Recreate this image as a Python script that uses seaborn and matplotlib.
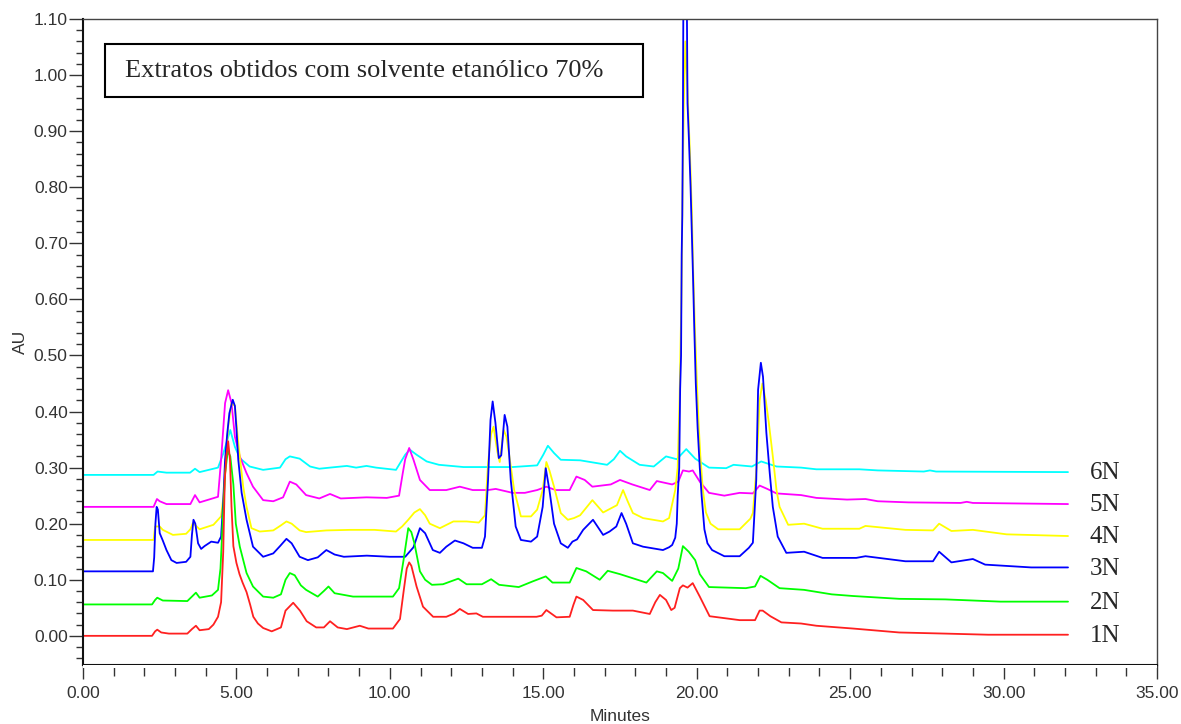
import matplotlib
matplotlib.use("Agg")
import numpy as np
import pandas as pd
import seaborn as sns
import matplotlib.pyplot as plt
from matplotlib.patches import Rectangle
from matplotlib.ticker import MultipleLocator, FormatStrFormatter

# ---------------- data (time in minutes, absorbance AU) ----------------
trace_1N = [(0, 0), (2.25, 0), (2.35, 0.008), (2.42, 0.011), (2.55, 0.006), (2.8, 0.004), (3.4, 0.004),
            (3.55, 0.012), (3.68, 0.018), (3.8, 0.01), (4.1, 0.012), (4.25, 0.02), (4.4, 0.034), (4.5, 0.06),
            (4.57, 0.15), (4.62, 0.278), (4.67, 0.32), (4.73, 0.347), (4.79, 0.314), (4.84, 0.23),
            (4.9, 0.16), (5.0, 0.13), (5.1, 0.11), (5.2, 0.095), (5.33, 0.078), (5.45, 0.055), (5.55, 0.034),
            (5.7, 0.022), (5.87, 0.014), (6.15, 0.008),
            (6.45, 0.015), (6.6, 0.045), (6.85, 0.059), (7.07, 0.045), (7.29, 0.026), (7.6, 0.015), (7.85, 0.015),
            (8.05, 0.026), (8.3, 0.015), (8.6, 0.012), (9.02, 0.018), (9.3, 0.013), (9.67, 0.013), (10.1, 0.013),
            (10.33, 0.03), (10.45, 0.08), (10.55, 0.12), (10.63, 0.131), (10.7, 0.125), (10.87, 0.088),
            (11.08, 0.052), (11.41, 0.034), (11.84, 0.034), (12.1, 0.04), (12.28, 0.048), (12.55, 0.039),
            (12.82, 0.04), (13.03, 0.034), (13.8, 0.034), (14.78, 0.034), (14.95, 0.036), (15.1, 0.046),
            (15.43, 0.033), (15.86, 0.034), (15.98, 0.055), (16.08, 0.07), (16.3, 0.064), (16.62, 0.046),
            (17.27, 0.045), (17.92, 0.045), (18.47, 0.039), (18.65, 0.06), (18.8, 0.073), (19.0, 0.064),
            (19.17, 0.046), (19.28, 0.05), (19.45, 0.085), (19.55, 0.09), (19.7, 0.086), (19.87, 0.094),
            (20.1, 0.07), (20.42, 0.035), (21.4, 0.028), (21.9, 0.028), (22.05, 0.045), (22.15, 0.045),
            (22.4, 0.035), (22.76, 0.024), (23.4, 0.022), (23.9, 0.018), (25.1, 0.013), (26.6, 0.006),
            (28.1, 0.004), (29.5, 0.002), (32.1, 0.002)]

trace_2N = [(0, 0.056), (2.25, 0.056), (2.35, 0.064), (2.42, 0.068), (2.6, 0.063), (3.4, 0.062), (3.55, 0.07),
            (3.68, 0.077), (3.8, 0.068), (4.2, 0.072), (4.4, 0.082), (4.48, 0.12), (4.55, 0.2), (4.63, 0.29),
            (4.72, 0.33), (4.8, 0.32), (4.9, 0.27), (4.98, 0.2), (5.11, 0.159), (5.33, 0.112), (5.54, 0.088),
            (5.87, 0.07), (6.2, 0.068), (6.45, 0.074), (6.6, 0.1), (6.74, 0.112), (6.9, 0.108), (7.1, 0.09),
            (7.27, 0.082), (7.65, 0.07), (7.85, 0.08), (8.0, 0.088), (8.2, 0.076), (8.8, 0.07), (10.1, 0.07),
            (10.3, 0.085), (10.46, 0.14), (10.6, 0.192), (10.7, 0.185), (10.8, 0.165), (10.98, 0.115),
            (11.15, 0.1), (11.37, 0.091), (11.73, 0.092), (12.23, 0.102), (12.5, 0.092), (13.0, 0.092),
            (13.3, 0.101), (13.56, 0.091), (14.2, 0.087), (14.65, 0.097), (15.08, 0.106), (15.3, 0.095),
            (15.86, 0.095), (16.08, 0.121), (16.4, 0.115), (16.84, 0.1), (17.1, 0.116), (17.5, 0.11),
            (17.9, 0.103), (18.36, 0.095), (18.7, 0.115), (18.9, 0.112), (19.2, 0.098), (19.4, 0.12),
            (19.55, 0.16), (19.74, 0.15), (19.95, 0.135), (20.1, 0.11), (20.4, 0.087), (21.6, 0.085),
            (21.9, 0.088), (22.08, 0.107), (22.3, 0.1), (22.7, 0.085), (23.5, 0.082), (24.4, 0.074),
            (25.1, 0.071), (26.6, 0.066), (28.1, 0.065), (29.9, 0.061), (32.1, 0.061)]

trace_3N = [(0, 0.115), (2.28, 0.115), (2.32, 0.14), (2.36, 0.2), (2.4, 0.23), (2.44, 0.225), (2.5, 0.183),
            (2.6, 0.17), (2.72, 0.153), (2.88, 0.135), (3.05, 0.13), (3.36, 0.132), (3.5, 0.141), (3.55, 0.18),
            (3.6, 0.207), (3.66, 0.2), (3.75, 0.165), (3.85, 0.155), (3.96, 0.16), (4.18, 0.168), (4.4, 0.166),
            (4.5, 0.177), (4.57, 0.24), (4.63, 0.314), (4.7, 0.36), (4.77, 0.397), (4.88, 0.421), (4.95, 0.41),
            (5.0, 0.37), (5.06, 0.314), (5.17, 0.255), (5.33, 0.207), (5.54, 0.159), (5.87, 0.141),
            (6.2, 0.147), (6.42, 0.16), (6.63, 0.173), (6.8, 0.165), (7.06, 0.141), (7.33, 0.135),
            (7.65, 0.14), (7.93, 0.153), (8.2, 0.145), (8.5, 0.141), (9.25, 0.143), (10.0, 0.141),
            (10.5, 0.141), (10.77, 0.158), (10.98, 0.192), (11.15, 0.183), (11.4, 0.153), (11.63, 0.148),
            (11.84, 0.159), (12.12, 0.17), (12.4, 0.165), (12.7, 0.157), (13.0, 0.157), (13.1, 0.177),
            (13.2, 0.278), (13.28, 0.385), (13.35, 0.418), (13.44, 0.38), (13.55, 0.317), (13.63, 0.322),
            (13.74, 0.394), (13.83, 0.373), (13.94, 0.278), (14.1, 0.195), (14.27, 0.171), (14.6, 0.168),
            (14.8, 0.177), (14.98, 0.23), (15.08, 0.299), (15.2, 0.26), (15.35, 0.2), (15.57, 0.165),
            (15.8, 0.157), (15.95, 0.168), (16.1, 0.172), (16.3, 0.189), (16.62, 0.207), (16.95, 0.18),
            (17.16, 0.186), (17.38, 0.195), (17.55, 0.219), (17.7, 0.2), (17.92, 0.165), (18.25, 0.159),
            (18.9, 0.153), (19.1, 0.158), (19.2, 0.162), (19.3, 0.175), (19.35, 0.2), (19.38, 0.25),
            (19.43, 0.3), (19.46, 0.44), (19.49, 0.5), (19.51, 0.68), (19.53, 0.75), (19.55, 0.92),
            (19.57, 1.2), (19.62, 1.3), (19.67, 1.2), (19.7, 0.95), (19.75, 0.88), (19.8, 0.8), (19.84, 0.72),
            (19.88, 0.64), (19.92, 0.55), (19.97, 0.45), (20.03, 0.37), (20.1, 0.3), (20.16, 0.25),
            (20.25, 0.19), (20.35, 0.165), (20.5, 0.153), (20.9, 0.142), (21.4, 0.142), (21.7, 0.157),
            (21.83, 0.166), (21.94, 0.278),
            (22.0, 0.439), (22.09, 0.487), (22.16, 0.462), (22.27, 0.362), (22.38, 0.29), (22.48, 0.23),
            (22.64, 0.177), (22.92, 0.148), (23.5, 0.15), (24.1, 0.139), (25.2, 0.139), (25.5, 0.142),
            (26.8, 0.133), (27.7, 0.133), (27.9, 0.15), (28.3, 0.131), (29.0, 0.137), (29.4, 0.127),
            (30.9, 0.122), (32.1, 0.122)]

trace_4N = [(0, 0.171), (2.3, 0.171), (2.35, 0.195), (2.5, 0.195), (2.6, 0.189), (2.93, 0.18), (3.36, 0.182),
            (3.5, 0.19), (3.58, 0.201), (3.65, 0.198), (3.8, 0.19), (4.25, 0.198), (4.5, 0.213), (4.6, 0.26),
            (4.68, 0.33), (4.73, 0.373), (4.84, 0.415), (4.95, 0.41), (5.06, 0.344), (5.22, 0.266),
            (5.33, 0.23), (5.49, 0.192), (5.76, 0.186), (6.2, 0.188), (6.45, 0.197), (6.63, 0.204),
            (6.8, 0.2), (7.06, 0.188), (7.27, 0.185), (7.93, 0.188), (8.7, 0.189), (9.5, 0.189),
            (10.2, 0.186), (10.4, 0.195), (10.6, 0.207), (10.8, 0.22), (10.98, 0.226), (11.15, 0.215),
            (11.3, 0.2), (11.63, 0.192), (12.07, 0.204), (12.5, 0.204), (12.9, 0.202), (13.1, 0.215),
            (13.2, 0.308), (13.3, 0.36), (13.38, 0.373), (13.5, 0.329), (13.58, 0.31), (13.71, 0.367),
            (13.8, 0.355), (13.88, 0.326), (14.05, 0.26), (14.27, 0.213), (14.6, 0.213), (14.8, 0.225),
            (14.98, 0.26), (15.1, 0.31), (15.2, 0.295), (15.35, 0.266), (15.57, 0.219), (15.8, 0.207),
            (16.0, 0.21), (16.2, 0.215), (16.6, 0.242), (16.95, 0.22), (17.4, 0.233), (17.6, 0.26),
            (17.75, 0.24), (17.92, 0.219), (18.25, 0.21), (18.9, 0.204), (19.1, 0.21), (19.2, 0.235),
            (19.3, 0.26), (19.38, 0.3), (19.44, 0.42), (19.5, 0.6), (19.54, 0.8), (19.58, 0.95),
            (19.63, 1.06), (19.68, 1.0), (19.73, 0.93), (19.78, 0.86), (19.84, 0.76), (19.88, 0.66),
            (19.94, 0.55), (20.0, 0.46), (20.06, 0.38), (20.12, 0.32), (20.2, 0.26), (20.3, 0.22),
            (20.45, 0.2), (20.7, 0.19), (21.4, 0.19),
            (21.75, 0.209), (21.83, 0.219), (21.95, 0.3), (22.05, 0.42), (22.14, 0.45), (22.25, 0.42),
            (22.35, 0.38), (22.48, 0.32), (22.6, 0.26), (22.7, 0.23), (22.98, 0.198), (23.5, 0.2),
            (24.1, 0.191), (25.3, 0.191), (25.5, 0.196), (26.8, 0.189), (27.7, 0.188), (27.9, 0.2),
            (28.3, 0.187), (29.0, 0.189), (30.1, 0.181), (32.1, 0.178)]

trace_5N = [(0, 0.23), (2.3, 0.23), (2.41, 0.244), (2.5, 0.24), (2.72, 0.235), (3.5, 0.235), (3.65, 0.251),
            (3.8, 0.238), (4.4, 0.248), (4.5, 0.314), (4.63, 0.415), (4.73, 0.438), (4.84, 0.415),
            (4.95, 0.355), (5.11, 0.32), (5.33, 0.29), (5.54, 0.266), (5.87, 0.242), (6.2, 0.24),
            (6.52, 0.247), (6.74, 0.275), (6.95, 0.27), (7.27, 0.251), (7.7, 0.245), (8.05, 0.253),
            (8.4, 0.245), (9.24, 0.247), (9.9, 0.246), (10.3, 0.25), (10.42, 0.29), (10.5, 0.315),
            (10.63, 0.335), (10.77, 0.314), (10.98, 0.278), (11.3, 0.26), (11.84, 0.26), (12.28, 0.266),
            (12.7, 0.26), (13.2, 0.26), (13.45, 0.262), (14.0, 0.255), (14.4, 0.255), (14.8, 0.26),
            (15.1, 0.266), (15.4, 0.26), (15.86, 0.26), (16.08, 0.284), (16.35, 0.278), (16.6, 0.266),
            (17.2, 0.27), (17.5, 0.278), (17.9, 0.27), (18.47, 0.26), (18.7, 0.276), (19.2, 0.27),
            (19.4, 0.275), (19.55, 0.295), (19.75, 0.293), (19.87, 0.295), (20.1, 0.275), (20.4, 0.255),
            (20.9, 0.25), (21.4, 0.255), (21.83, 0.254), (22.05, 0.268), (22.3, 0.262), (22.6, 0.254),
            (23.4, 0.251), (23.9, 0.246), (24.9, 0.243), (25.5, 0.244), (25.9, 0.24), (26.9, 0.238),
            (28.6, 0.237), (28.8, 0.239), (29.0, 0.237), (32.1, 0.235)]

trace_6N = [(0, 0.287), (2.3, 0.287), (2.43, 0.293), (2.72, 0.291), (3.49, 0.291), (3.65, 0.298), (3.8, 0.292),
            (4.4, 0.3), (4.57, 0.325), (4.68, 0.345), (4.8, 0.367), (4.95, 0.337), (5.11, 0.317),
            (5.43, 0.302), (5.87, 0.296), (6.42, 0.3), (6.6, 0.315), (6.74, 0.32), (7.06, 0.316),
            (7.4, 0.302), (7.7, 0.298), (8.05, 0.3), (8.6, 0.303), (8.9, 0.3), (9.24, 0.303), (9.55, 0.3),
            (10.2, 0.296), (10.5, 0.323), (10.65, 0.332), (10.87, 0.323), (11.2, 0.311), (11.6, 0.305),
            (12.4, 0.301), (14.0, 0.301), (14.8, 0.304), (15.0, 0.323), (15.15, 0.339), (15.35, 0.326),
            (15.57, 0.314), (16.2, 0.313), (17.08, 0.305), (17.3, 0.315), (17.5, 0.33), (17.7, 0.32),
            (18.14, 0.305), (18.6, 0.302), (19.0, 0.32), (19.35, 0.315), (19.66, 0.333), (19.95, 0.316),
            (20.4, 0.3), (20.96, 0.299), (21.2, 0.305), (21.8, 0.302), (22.1, 0.311), (22.6, 0.302),
            (23.4, 0.3), (23.9, 0.297), (25.3, 0.297), (25.9, 0.295), (27.4, 0.293), (27.6, 0.295),
            (27.8, 0.293), (32.1, 0.292)]

sample_names = ["6N", "5N", "4N", "3N", "2N", "1N"]
sample_colors = ["#00ffff", "#ff00ff", "#ffff00", "#0000ff", "#00ff00", "#ff2020"]
title_text = "Extratos obtidos com solvente etanólico 70%"
x_ticks = [0, 5, 10, 15, 20, 25, 30, 35]
y_ticks = [0.0, 0.1, 0.2, 0.3, 0.4, 0.5, 0.6, 0.7, 0.8, 0.9, 1.0, 1.1]

traces = {"1N": trace_1N, "2N": trace_2N, "3N": trace_3N,
          "4N": trace_4N, "5N": trace_5N, "6N": trace_6N}

# ---------------- build dataframe ----------------
rows = []
for name, pts in traces.items():
    for t, v in pts:
        rows.append((t, v, name))
df = pd.DataFrame(rows, columns=["Minutes", "AU", "sample"])

sns.set_style("ticks")
plt.rcParams["font.family"] = ["Liberation Sans", "DejaVu Sans"]

fig = plt.figure(figsize=(11.81, 7.24), dpi=100)
ax = fig.add_axes([0.07028, 0.08149, 0.90940, 0.89227])

sns.lineplot(data=df, x="Minutes", y="AU", hue="sample", hue_order=sample_names,
             palette=dict(zip(sample_names, sample_colors)), estimator=None, sort=False,
             linewidth=1.3, legend=False, ax=ax)

ax.set_xlim(0, 35)
ax.set_ylim(-0.052, 1.10)
ax.set_xticks(x_ticks)
ax.set_yticks(y_ticks)
ax.xaxis.set_minor_locator(MultipleLocator(1))
ax.yaxis.set_minor_locator(MultipleLocator(0.02))
ax.xaxis.set_major_formatter(FormatStrFormatter("%.2f"))
ax.yaxis.set_major_formatter(FormatStrFormatter("%.2f"))

ax.tick_params(axis="y", which="major", direction="out", length=10, width=1.0, color="#333333",
               labelsize=12.5, labelcolor="#333333", pad=1)
ax.tick_params(axis="y", which="minor", direction="out", length=5, width=1.0, color="#333333")
ax.tick_params(axis="x", which="major", direction="out", length=10, width=1.0, color="#333333",
               labelsize=12.5, labelcolor="#333333", pad=5)
ax.tick_params(axis="x", which="minor", direction="out", length=8, width=1.0, color="#333333")

for side in ["left", "bottom"]:
    ax.spines[side].set_linewidth(1.5)
    ax.spines[side].set_color("#111111")
for side in ["top", "right"]:
    ax.spines[side].set_linewidth(1.0)
    ax.spines[side].set_color("#444444")

ax.set_xlabel("Minutes", fontsize=12.5, color="#333333", labelpad=6)
ax.set_ylabel("AU", fontsize=12.5, color="#333333", labelpad=4)

# title box
ax.add_patch(Rectangle((0.0205, 0.879), 0.5009, 0.082, transform=ax.transAxes,
                       fill=False, edgecolor="black", linewidth=1.5, zorder=5))
ax.text(0.039, 0.919, title_text, transform=ax.transAxes, fontsize=19,
        family=["Liberation Serif", "DejaVu Serif"], va="center", ha="left", zorder=6)

# sample labels at the right end of each trace
for name in sample_names:
    last_t, last_v = traces[name][-1]
    ax.text(last_t + 0.7, last_v - 0.002, name, fontsize=18,
            family=["Liberation Serif", "DejaVu Serif"], va="center", ha="left")

# white strip just below the bottom spine so tick marks look detached, as in the reference
ax.add_patch(Rectangle((0, -0.0045), 1, 0.0045, transform=ax.transAxes, facecolor="white",
                       edgecolor="none", clip_on=False, zorder=10))

fig.savefig("out.png", dpi=100)
